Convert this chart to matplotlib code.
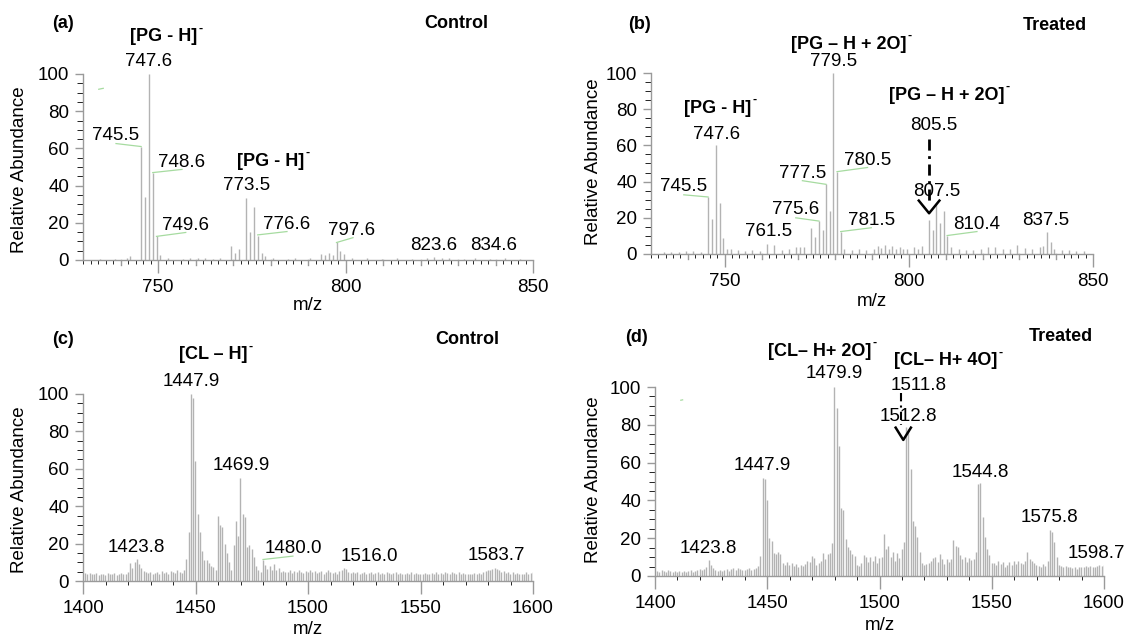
import numpy as np
import matplotlib.pyplot as plt
from matplotlib.transforms import blended_transform_factory

plt.rcParams['font.family'] = ['Liberation Sans', 'DejaVu Sans']

# ---------------- data ----------------
# (a) PG region, control
mz_a = [742.6, 745.5, 746.5, 747.6, 748.6, 749.6, 750.6, 769.5, 770.5, 771.5,
        773.5, 774.5, 775.5, 776.6, 777.6, 778.6, 793.5, 794.5, 795.5, 796.6,
        797.6, 798.6, 799.6]
int_a = [2.3, 61, 34, 100, 47, 12.7, 2.7, 7.7, 4, 6,
         33.5, 15, 28.5, 13, 4, 2, 3, 2.5, 3.5, 2.5,
         9.5, 5, 3]
noise_mz_a = [734.6, 738.6, 741.6, 752.6, 756.6, 758.6, 760.6, 762.6, 764.6, 766.6,
              780.6, 784.6, 786.6, 790.6, 801.6, 805.6, 809.6, 813.6, 817.6, 821.6,
              823.6, 825.6, 827.6, 831.6, 834.6, 838.6, 842.6, 846.6]
noise_int_a = [0.8, 0.8, 1.0, 1.0, 0.8, 1.2, 1.0, 1.2, 0.8, 1.0,
               1.0, 0.8, 1.2, 1.0, 1.2, 1.0, 0.8, 1.0, 0.8, 1.0,
               1.5, 1.2, 1.0, 0.8, 1.2, 0.8, 1.0, 0.8]

# (b) PG region, treated
mz_b = [745.5, 746.5, 747.6, 748.6, 749.6, 750.6, 751.6, 761.5, 763.5, 769.5,
        770.5, 771.5, 773.5, 774.5, 775.6, 776.6, 777.5, 778.5, 779.5, 780.5,
        781.5, 782.5, 791.5, 793.5, 795.5, 797.5, 801.5, 803.5, 805.5, 806.5,
        807.5, 808.5, 809.5, 810.4, 811.5, 821.5, 823.5, 829.5, 831.5, 835.5,
        836.5, 837.5, 838.5, 839.5]
int_b = [31.5, 19.6, 60, 28.4, 8.7, 3, 2.5, 5.5, 5, 3.6,
         4, 3.6, 14.5, 9.6, 18, 13, 38.5, 24, 100, 45.5,
         12.4, 3, 4.5, 5, 4.5, 4, 4, 4.5, 19, 13,
         28, 17, 24, 10, 4, 4, 4, 5, 3.5, 4,
         4.5, 12, 6.5, 3]
noise_mz_b = [733.5, 735.5, 737.5, 739.5, 741.5, 743.5, 753.5, 755.5, 757.5, 759.5,
              765.5, 767.5, 784.5, 786.5, 788.5, 790.5, 792.5, 794.5, 796.5, 798.5,
              799.5, 802.5, 813.5, 815.5, 817.5, 819.5, 825.5, 827.5, 833.5, 841.5,
              843.5, 845.5, 847.5]
noise_int_b = [1.0, 1.2, 1.0, 1.5, 1.5, 1.2, 2.0, 1.5, 2.0, 1.5,
               2.0, 2.5, 2.0, 2.5, 2.0, 3.0, 3.5, 3.0, 3.0, 2.5,
               3.0, 2.5, 2.5, 2.0, 2.0, 2.5, 2.5, 3.0, 2.5, 2.0,
               2.0, 1.5, 1.5]

# (c) CL region, control: one value per m/z from 1400.9 to 1599.9
mz_c_start = 1400.9
int_c = [4.5, 4, 4.5, 3.5, 4, 4.5, 3, 4, 3.5, 3,
         4.5, 4, 3.5, 4.5, 3, 4, 4.5, 3.5, 4, 5,
         9.5, 7, 10, 12, 9, 7, 5.5, 5, 4.5, 5,
         4, 4.5, 5, 4, 5.5, 4.5, 5, 4, 5.5, 5,
         4.5, 6, 5, 4.5, 6, 12, 26, 100, 98, 64,
         36, 26, 16, 11, 11, 9.5, 8, 7.5, 6, 35,
         30, 29, 20, 15, 10, 6, 19, 32, 24, 55,
         36, 34, 18, 19, 17, 13, 8, 6, 5, 11,
         8.5, 6.5, 8, 6, 9, 6, 7, 5, 5.5, 5,
         5, 6, 4.5, 5.5, 5, 6, 5, 4.5, 5.5, 5,
         6, 5, 5.5, 4.5, 5, 5.5, 4, 5, 6, 5,
         4.5, 5, 4, 5.5, 6, 7, 6.5, 5, 4.5, 5,
         4.5, 5, 4, 4.5, 5, 4, 4.5, 5, 4, 4.5,
         5, 4, 4.5, 4, 5, 4.5, 4, 4.5, 5, 4,
         4.5, 4, 3.5, 4.5, 4, 5, 4, 4.5, 4, 3.5,
         4, 4.5, 4, 3.5, 4.5, 4, 5, 4, 4.5, 4,
         5, 4.5, 4, 5, 4.5, 4, 5, 4, 4.5, 3.5,
         4, 3.5, 4, 4.5, 4, 4.5, 4, 5, 5.5, 6,
         6, 6.5, 7, 6.5, 6, 5, 5.5, 4.5, 5, 4,
         5, 4, 4.5, 4, 3.5, 4, 5, 4, 4.5, 5]

# (d) CL region, treated: one value per m/z from 1400.9 to 1599.9
mz_d_start = 1400.9
int_d = [2.5, 2, 3, 2.5, 2, 3, 2.5, 2, 2.5, 2,
         2.5, 2, 2.5, 2, 2.5, 3, 2, 2.5, 3, 3.5,
         3, 3.5, 5, 8.5, 6, 4, 3, 2.5, 3, 2.5,
         3, 3.5, 2.5, 3.5, 4, 3, 4, 3.5, 3, 3,
         3.5, 4, 3, 3.5, 4, 5.5, 10.5, 52, 51.5, 40,
         20, 18.5, 12, 11.5, 12.5, 11.5, 7, 6, 7.5, 6,
         7, 5.5, 6.5, 5, 6, 5.5, 6.5, 8, 7.5, 10.5,
         9.5, 6, 7, 8, 12, 9, 11.5, 12, 17.5, 100,
         89, 69, 36, 35, 19.5, 15.5, 14, 11.5, 10.5, 6,
         5.5, 7, 11, 10, 7.5, 10, 8, 10.5, 7, 9.5,
         10, 22, 14.5, 16, 10, 12.5, 8, 12, 9.5, 14.5,
         18, 79, 78, 56.5, 29, 26.5, 20.5, 12.5, 7, 6,
         6.5, 7, 8, 9.5, 10, 7.5, 11.5, 9, 6.5, 9,
         7.5, 9, 19, 16, 15.5, 11, 9, 10, 7.5, 9.5,
         8.5, 9, 12.5, 48.5, 49, 31, 20.5, 14.5, 11, 7,
         7, 6, 8, 6.5, 7.5, 5, 6, 7.5, 6, 8,
         6.5, 8, 7, 6.5, 8, 12.5, 9, 8, 7, 6,
         5.5, 5, 6.5, 5.5, 8, 24.5, 23.5, 18, 10, 6,
         5.5, 5, 5.5, 4.5, 5, 4, 4.5, 3.5, 5, 4.5,
         5, 5.5, 5, 5.5, 5, 4.5, 5.5, 6, 5.5, 6]

# peak labels: (text, x, y, bold, superscript minus)
labels_a = [("(a)", 724.6, 127, True, False), ("Control", 829.6, 127, True, False),
            ("[PG - H]", 751.6, 120, True, True),
            ("747.6", 747.4, 106.6, False, False), ("745.5", 738.8, 66.8, False, False),
            ("748.6", 756.4, 52.6, False, False), ("[PG - H]", 780.0, 53.1, True, True),
            ("773.5", 773.5, 40.1, False, False), ("749.6", 757.4, 18.7, False, False),
            ("776.6", 784.4, 19.3, False, False), ("797.6", 801.5, 16.0, False, False),
            ("823.6", 823.4, 8.0, False, False), ("834.6", 839.5, 7.7, False, False)]
labels_b = [("(b)", 727.0, 127, True, False), ("Treated", 839.7, 126.5, True, False),
            ("[PG – H + 2O]", 783.6, 116, True, True),
            ("779.5", 779.7, 106.5, False, False),
            ("[PG – H + 2O]", 810.2, 87.8, True, True),
            ("[PG - H]", 748.2, 80.5, True, True),
            ("805.5", 806.7, 70.9, False, False), ("747.6", 747.7, 66.0, False, False),
            ("780.5", 788.8, 51.5, False, False), ("777.5", 771.1, 44.7, False, False),
            ("745.5", 738.9, 37.5, False, False), ("807.5", 807.7, 34.7, False, False),
            ("775.6", 769.3, 24.7, False, False), ("781.5", 789.8, 18.7, False, False),
            ("761.5", 762.0, 12.4, False, False), ("810.4", 818.5, 16.4, False, False),
            ("837.5", 837.2, 18.7, False, False)]
labels_c = [("(c)", 1391.0, 129, True, False), ("Control", 1571.0, 129.4, True, False),
            ("[CL – H]", 1458.0, 121, True, True),
            ("1447.9", 1448.0, 106.8, False, False), ("1469.9", 1470.3, 61.7, False, False),
            ("1423.8", 1423.8, 17.8, False, False), ("1480.0", 1493.3, 17.3, False, False),
            ("1516.0", 1527.4, 13.3, False, False), ("1583.7", 1583.7, 13.7, False, False)]
labels_d = [("(d)", 1391.6, 126.3, True, False), ("Treated", 1580.7, 126.7, True, False),
            ("[CL– H+ 2O]", 1473.5, 119, True, True),
            ("[CL– H+ 4O]", 1529.3, 113.8, True, True),
            ("1479.9", 1480.0, 107, False, False), ("1511.8", 1517.6, 100.9, False, False),
            ("1512.8", 1512.8, 84.3, False, False), ("1447.9", 1447.7, 58.7, False, False),
            ("1544.8", 1545.1, 55, False, False), ("1575.8", 1575.8, 31, False, False),
            ("1423.8", 1423.9, 14.5, False, False), ("1598.7", 1596.8, 11.8, False, False)]

# green leader lines: (x0, y0, x1, y1)
leaders_a = [(738.8, 62.6, 745.5, 61), (748.6, 47, 756.4, 48.7), (749.6, 12.7, 757.4, 14.8),
             (776.6, 13.5, 784.4, 15.3), (797.6, 9.4, 802.0, 12.0), (734.2, 91.8, 735.4, 92.3)]
leaders_b = [(738.9, 32.7, 745.5, 31.5), (771.1, 40.5, 777.5, 38.5), (780.5, 45.5, 788.8, 47.8),
             (769.3, 20.0, 775.6, 18.2), (781.5, 12.4, 789.8, 14.5), (810.4, 10.2, 818.5, 12.4)]
leaders_c = [(1480.0, 11.5, 1493.3, 13.3)]
leaders_d = [(1411.5, 93.0, 1412.3, 93.2)]

# ---------------- drawing ----------------
W, H = 1129, 637
fig = plt.figure(figsize=(W / 100, H / 100), dpi=100)
BAR = '#b3b3b3'
AXC = '#9a9a9a'
GREEN = '#a6dba0'
FS = 13.5
FSB = 13


def make_ax(xl, xr, y0, y100, xlim, major, minor, medium=None):
    ax = fig.add_axes([xl / W, 1 - y0 / H, (xr - xl) / W, (y0 - y100) / H])
    ax.set_xlim(*xlim)
    ax.set_ylim(0, 100)
    for s in ['top', 'right']:
        ax.spines[s].set_visible(False)
    for s in ['left', 'bottom']:
        ax.spines[s].set_color(AXC)
        ax.spines[s].set_linewidth(1.0)
    ax.set_yticks(np.arange(0, 101, 20))
    ax.set_yticks(np.arange(0, 101, 5), minor=True)
    ax.set_xticks(major)
    ax.set_xticks(minor, minor=True)
    ax.tick_params(axis='both', colors=AXC, labelcolor='black', labelsize=FS, width=1)
    ax.tick_params(axis='y', which='major', length=6, pad=4)
    ax.tick_params(axis='y', which='minor', length=4)
    ax.tick_params(axis='x', which='major', length=9, pad=5)
    ax.tick_params(axis='x', which='minor', length=3)
    if medium is not None:
        tr = blended_transform_factory(ax.transData, ax.transAxes)
        for m in medium:
            ax.plot([m, m], [0, -0.028], color=AXC, lw=1, transform=tr, clip_on=False)
    return ax


def draw_labels(ax, labels, leaders):
    for t, x, y, b, sup in labels:
        txt = ax.text(x, y, t, ha='center', va='center', fontsize=FSB if b else FS,
                      fontweight='bold' if b else 'normal', color='black', clip_on=False)
        if sup:
            ax.annotate('-', xy=(1, 1), xycoords=txt, xytext=(0.8, -2.5),
                        textcoords='offset points', ha='left', va='baseline',
                        fontsize=9, fontweight='bold', color='black')
    for x0, y0, x1, y1 in leaders:
        ax.plot([x0, x1], [y0, y1], color=GREEN, lw=0.9, clip_on=False)


# (a)
ax_a = make_ax(83, 533, 260, 74, (730, 850), [750, 800, 850],
               np.arange(730, 851, 2), [m for m in range(740, 850, 10) if m % 50])
ax_a.vlines(noise_mz_a, 0, noise_int_a, color=BAR, lw=1)
ax_a.vlines(mz_a, 0, int_a, color=BAR, lw=1)
draw_labels(ax_a, labels_a, leaders_a)

# (b)
ax_b = make_ax(651, 1093, 254, 73, (730, 850), [750, 800, 850],
               np.arange(730, 851, 2), [m for m in range(740, 850, 10) if m % 50])
ax_b.vlines(noise_mz_b, 0, noise_int_b, color=BAR, lw=1)
ax_b.vlines(mz_b, 0, int_b, color=BAR, lw=1)
draw_labels(ax_b, labels_b, leaders_b)
ax_b.plot([805.5, 805.5], [63.5, 29.5], color='black', lw=2, ls=(0, (4, 2, 1, 2)), clip_on=False)
ax_b.plot([802.7, 805.5, 808.3], [29.5, 22.5, 29.5], color='black', lw=1.8)

# (c)
mz_c = mz_c_start + np.arange(len(int_c))
ax_c = make_ax(83, 533, 581, 394, (1400, 1600), np.arange(1400, 1601, 50),
               np.arange(1400, 1601, 10))
ax_c.vlines(mz_c, 0, int_c, color=BAR, lw=1)
draw_labels(ax_c, labels_c, leaders_c)

# (d)
mz_d = mz_d_start + np.arange(len(int_d))
ax_d = make_ax(655, 1104, 576, 387, (1400, 1600), np.arange(1400, 1601, 50),
               np.arange(1400, 1601, 10))
ax_d.vlines(mz_d, 0, int_d, color=BAR, lw=1)
draw_labels(ax_d, labels_d, leaders_d)
ax_d.plot([1509.4, 1509.4], [97, 80], color='black', lw=1.5, ls=(0, (4, 2, 1, 2)), clip_on=False)
ax_d.plot([1507.2, 1510.6, 1514.0], [78.5, 72.0, 78.5], color='black', lw=1.8)

# axis titles
for (x, y) in [(20, 170), (594, 162), (20, 490), (594, 480)]:
    fig.text(x / W, 1 - y / H, "Relative Abundance", rotation=90, ha='center',
             va='center', fontsize=FS)
for (x, y) in [(308, 306), (872, 301), (308, 629), (880, 625)]:
    fig.text(x / W, 1 - y / H, "m/z", ha='center', va='center', fontsize=FS)

fig.savefig('out.png', dpi=100)
